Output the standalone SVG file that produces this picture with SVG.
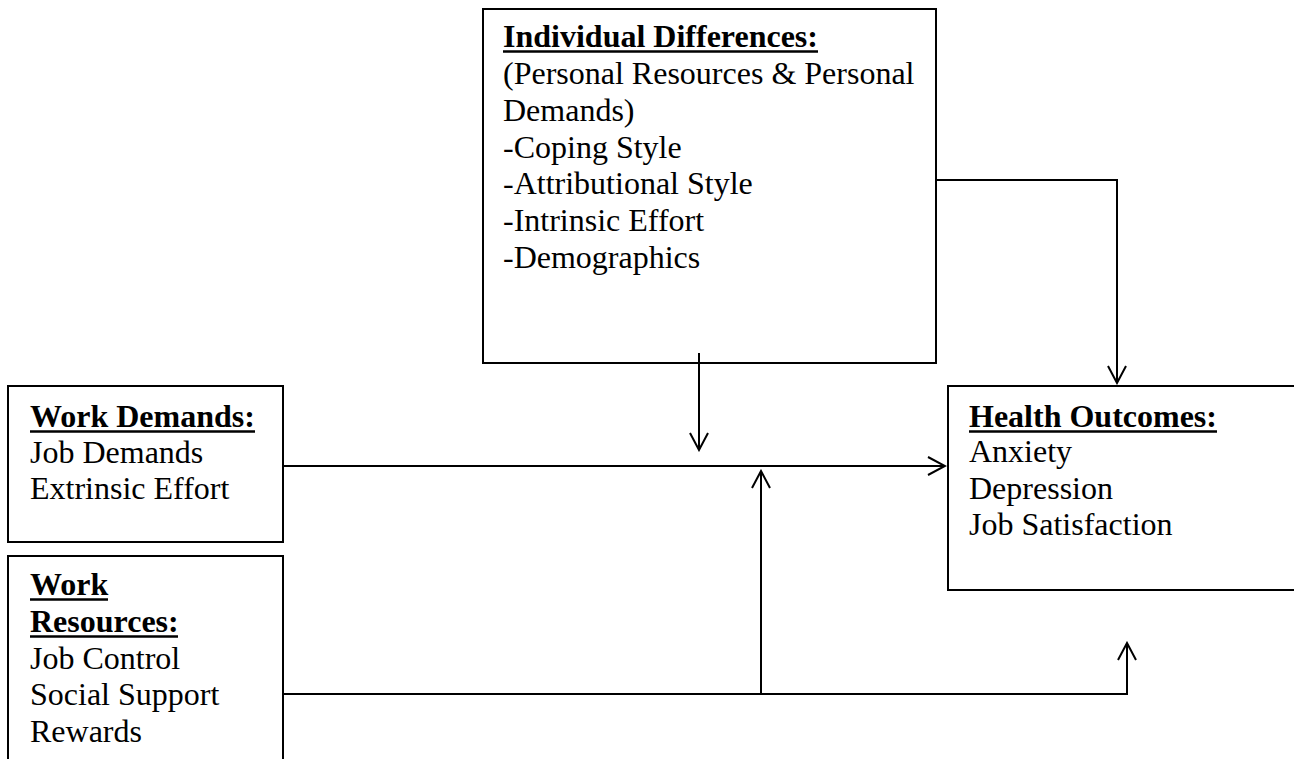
<svg xmlns="http://www.w3.org/2000/svg" width="1294" height="759" viewBox="0 0 1294 759">
<style>
.box{fill:#fff;stroke:#000;stroke-width:2}
.t{font-family:"Liberation Serif","Times New Roman",serif;font-size:32px;fill:#000}
.h{font-weight:bold}
.u{stroke:#000;stroke-width:2.6}
.c{fill:none;stroke:#000;stroke-width:2}
</style>
<defs>
<marker id="arr" markerUnits="userSpaceOnUse" markerWidth="22" markerHeight="22" viewBox="0 0 22 22" refX="20" refY="11" orient="auto">
<path d="M3,2 L20,11 L3,20" fill="none" stroke="#000" stroke-width="2"/>
</marker>
</defs>
<rect width="1294" height="759" fill="#fff"/>
<g id="individual-differences">
<rect class="box" x="483" y="9" width="453" height="354"/>
<text class="t h" x="503" y="47">Individual Differences:</text>
<line class="u" x1="503" y1="51.5" x2="818" y2="51.5"/>
<text class="t" x="503" y="84">(Personal Resources &amp; Personal</text>
<text class="t" x="503" y="121">Demands)</text>
<text class="t" x="503" y="158">-Coping Style</text>
<text class="t" x="503" y="194">-Attributional Style</text>
<text class="t" x="503" y="231">-Intrinsic Effort</text>
<text class="t" x="503" y="268">-Demographics</text>
</g>
<g id="work-demands">
<rect class="box" x="8" y="386" width="275" height="156"/>
<text class="t h" x="30" y="427">Work Demands:</text>
<line class="u" x1="30" y1="431.5" x2="255" y2="431.5"/>
<text class="t" x="30" y="463">Job Demands</text>
<text class="t" x="30" y="499">Extrinsic Effort</text>
</g>
<g id="work-resources">
<rect class="box" x="8" y="556" width="275" height="220"/>
<text class="t h" x="30" y="595">Work</text>
<line class="u" x1="30" y1="599.5" x2="108" y2="599.5"/>
<text class="t h" x="30" y="632">Resources:</text>
<line class="u" x1="30" y1="636.5" x2="178" y2="636.5"/>
<text class="t" x="30" y="669">Job Control</text>
<text class="t" x="30" y="705">Social Support</text>
<text class="t" x="30" y="742">Rewards</text>
</g>
<g id="health-outcomes">
<rect class="box" x="948" y="386" width="360" height="204"/>
<text class="t h" x="969" y="427">Health Outcomes:</text>
<line class="u" x1="969" y1="431.5" x2="1217" y2="431.5"/>
<text class="t" x="969" y="462">Anxiety</text>
<text class="t" x="969" y="499">Depression</text>
<text class="t" x="969" y="535">Job Satisfaction</text>
</g>
<g id="connectors">
<path class="c" d="M283,466 L945,466" marker-end="url(#arr)"/>
<path class="c" d="M699,353 L699,450" marker-end="url(#arr)"/>
<path class="c" d="M283,694 L1127,694 L1127,643" marker-end="url(#arr)"/>
<path class="c" d="M761,694 L761,471" marker-end="url(#arr)"/>
<path class="c" d="M936,180 L1117,180 L1117,383" marker-end="url(#arr)"/>
</g>
</svg>
